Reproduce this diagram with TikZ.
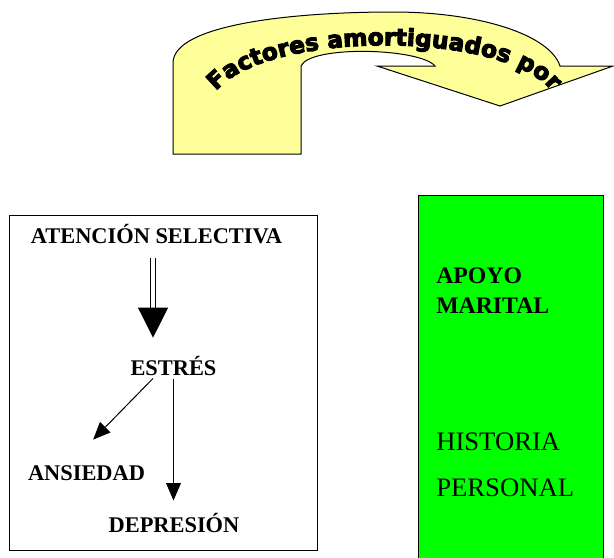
\documentclass[tikz,border=0pt]{standalone}
\usepackage{fontspec}
\setmainfont{Liberation Serif}
\newfontfamily\bannerfont{DejaVu Sans Bold}[FakeBold=4.5]
\usepackage{tikz}
\usetikzlibrary{arrows.meta, decorations.text}
\definecolor{paleyellow}{RGB}{255,255,153}
\newcommand{\bannercolor}{paleyellow}
\newcommand{\factorcolor}{green}

\begin{document}
\begin{tikzpicture}[
      % GLOBAL CFG
      x=0.75pt, y=-0.75pt,
      >={Triangle[length=13pt,width=11pt]},
      % Styles
      term/.style={% For the boxed terms
        inner sep=0pt,
        anchor=base,
        font=\bfseries\fontsize{16.8}{19}\selectfont
      },
      factor/.style={% For the green column
        inner sep=0pt,
        anchor=north west,
        align=left
      },
      arrowthin/.style={% Plain arrows
        line width=0.75pt,
        ->
      },
      arrowdouble/.style={% Shaft of the big arrow
        double,
        double distance=3.2pt,
        line width=0.75pt
      },
      arrowhead/.style={% Head of the big arrow
        -{Triangle[length=22.5pt,width=22.5pt]},
        line width=0.75pt
      }
      ]
      \useasboundingbox (0,0) rectangle (614,557);

      % The curved banner on top
      \draw[line width=0.75pt, fill=\bannercolor] (173,154) -- (173,63)
        .. controls (173,25) and (290,12) .. (393,12)
        .. controls (480,12) and (550,35) .. (560,66)
        -- (613,66) -- (500,106) -- (377,66) -- (435,66)
        .. controls (420,48) and (310,45) .. (301,66)
        -- (301,154) -- cycle;
      \path[decorate, decoration={text along path, text align=center,
          text={|\bannerfont\fontsize{17.5}{18}\selectfont|Factores amortiguados por}}]
        (214,94) .. controls (260,29) and (510,29) .. (554,94);

      % Left box
      \draw[line width=0.75pt] (9,215) rectangle (317,550);
      \node[term] (atencion) at (156.5,243) {ATENCIÓN SELECTIVA};
      \node[term] (estres) at (173.5,375) {ESTRÉS};
      \node[term] (ansiedad) at (86.5,480) {ANSIEDAD};
      \node[term] (depresion) at (174,532) {DEPRESIÓN};

      \draw[arrowdouble] ([xshift=-2.6pt,yshift=-10.5pt]atencion.south) -- ++(0,50) coordinate (headbase);
      \draw[arrowhead] (headbase) -- ++(0,30);
      \draw[arrowthin] ([xshift=17pt,yshift=-2.25pt]estres.south west) -- ([xshift=5pt,yshift=19pt]ansiedad.north);
      \draw[arrowthin, shorten <=3pt, shorten >=9pt] (estres.south) -- (estres.south |- depresion.north);

      % Right column
      \draw[line width=0.75pt, fill=\factorcolor] (418,195) rectangle (603,562);
      \node[factor, font=\bfseries\fontsize{17.8}{22.5}\selectfont] (apoyo) at (436,268) {APOYO\\MARITAL};
      \node[factor, font=\fontsize{20}{34.5}\selectfont] (historia) at (436,433) {HISTORIA\\PERSONAL};

    \end{tikzpicture}
\end{document}
